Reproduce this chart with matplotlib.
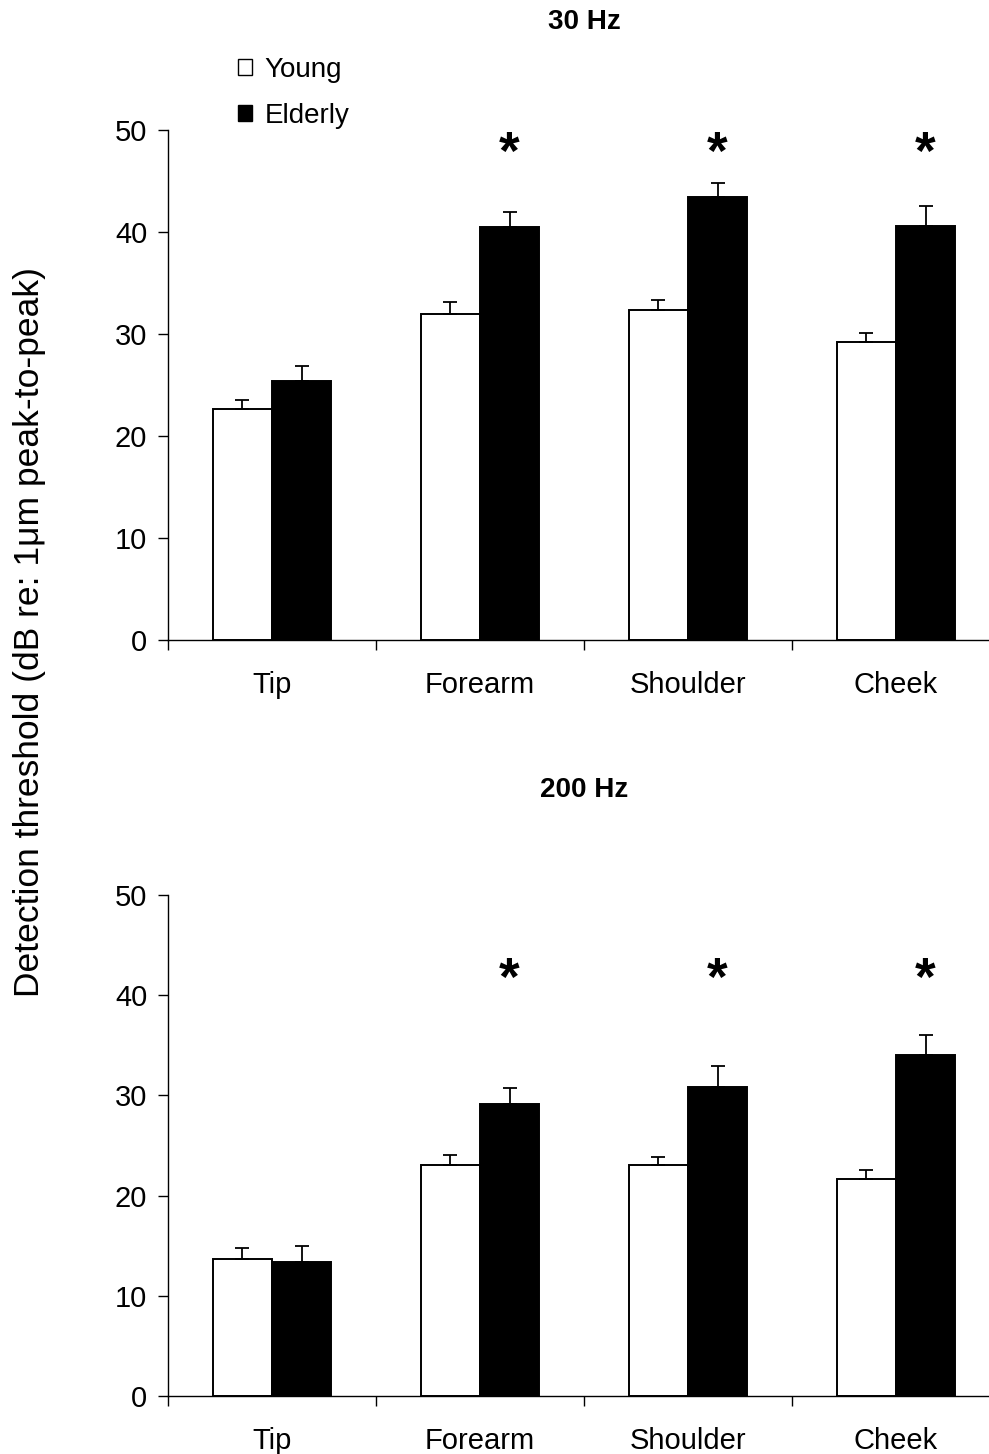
import matplotlib

matplotlib.use("Agg")
import matplotlib.pyplot as plt
import numpy as np
from matplotlib.patches import Patch

SITES = ["Tip", "Forearm", "Shoulder", "Cheek"]

YOUNG_30 = [22.6, 32.0, 32.4, 29.2]
YOUNG_30_ERR = [0.9, 1.1, 0.9, 0.9]
ELDERLY_30 = [25.4, 40.5, 43.4, 40.6]
ELDERLY_30_ERR = [1.5, 1.5, 1.4, 1.9]
STARS_30 = [False, True, True, True]

YOUNG_200 = [13.7, 23.1, 23.1, 21.7]
YOUNG_200_ERR = [1.1, 0.95, 0.75, 0.9]
ELDERLY_200 = [13.4, 29.1, 30.8, 34.0]
ELDERLY_200_ERR = [1.6, 1.6, 2.1, 2.0]
STARS_200 = [False, True, True, True]

plt.rcParams.update(
    {
        "font.family": ["Liberation Sans", "DejaVu Sans"],
        "font.size": 21,
    }
)

W, H = 989, 1454
fig = plt.figure(figsize=(W / 100, H / 100), dpi=100)


def axes_rect(left_px, right_px, top_px, bottom_px):
    return [left_px / W, 1 - bottom_px / H, (right_px - left_px) / W, (bottom_px - top_px) / H]


ax_top = fig.add_axes(axes_rect(168, 1000, 130, 640))
ax_bot = fig.add_axes(axes_rect(168, 1000, 895, 1396))

BAR_W = 0.284


def draw_panel(ax, young, young_err, elderly, elderly_err, stars, star_y):
    x = np.arange(len(SITES))
    err_kw = dict(ecolor="black", elinewidth=1.3, capsize=4.8, capthick=1.3)
    ax.bar(
        x - BAR_W / 2,
        young,
        width=BAR_W,
        color="white",
        edgecolor="black",
        linewidth=1.4,
        yerr=[np.zeros(len(young)), young_err],
        error_kw=err_kw,
        zorder=2,
    )
    ax.bar(
        x + BAR_W / 2,
        elderly,
        width=BAR_W,
        color="black",
        edgecolor="black",
        linewidth=1.4,
        yerr=[np.zeros(len(elderly)), elderly_err],
        error_kw=err_kw,
        zorder=2,
    )
    for xi, flag in zip(x, stars):
        if flag:
            ax.text(xi + BAR_W / 2, star_y, "*", ha="center", va="center",
                    fontsize=38, fontweight="bold")
    ax.set_xlim(-0.5, 3.5)
    ax.set_ylim(0, 50)
    ax.set_yticks(range(0, 51, 10))
    ax.set_xticks(np.arange(-0.5, 3.6, 1.0))
    ax.set_xticklabels([])
    ax.set_xticks(x, minor=True)
    ax.set_xticklabels(SITES, minor=True)
    ax.tick_params(axis="x", which="major", direction="out", length=7, width=1)
    ax.tick_params(axis="x", which="minor", length=0, pad=22)
    ax.tick_params(axis="y", direction="out", length=7, width=1, pad=8)
    for side in ("top", "right"):
        ax.spines[side].set_visible(False)
    for side in ("left", "bottom"):
        ax.spines[side].set_linewidth(1.0)


draw_panel(ax_top, YOUNG_30, YOUNG_30_ERR, ELDERLY_30, ELDERLY_30_ERR, STARS_30, 47.6)
draw_panel(ax_bot, YOUNG_200, YOUNG_200_ERR, ELDERLY_200, ELDERLY_200_ERR, STARS_200, 41.4)

fig.text(584 / W, 1 - 22 / H, "30 Hz", ha="center", va="center", fontsize=20, fontweight="bold")
fig.text(584 / W, 1 - 790 / H, "200 Hz", ha="center", va="center", fontsize=20, fontweight="bold")

fig.text(30 / W, 1 - 632 / H, "Detection threshold (dB re: 1\u03bcm peak-to-peak)",
         rotation=90, ha="center", va="center", fontsize=25.5)

fig.legend(
    handles=[
        Patch(facecolor="white", edgecolor="black", linewidth=1.0, label="Young"),
        Patch(facecolor="black", edgecolor="black", linewidth=1.0, label="Elderly"),
    ],
    loc="upper left",
    bbox_to_anchor=(238 / W, 1 - 57 / H),
    frameon=False,
    fontsize=20,
    handlelength=0.5,
    handleheight=0.5,
    handletextpad=0.45,
    labelspacing=0.72,
    borderpad=0,
    borderaxespad=0,
)

fig.savefig("out.png", dpi=100)
